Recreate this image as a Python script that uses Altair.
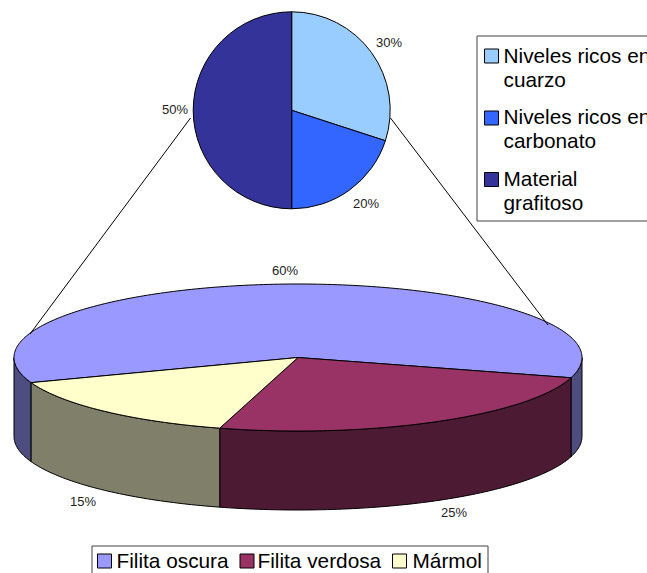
import numpy as np
import pandas as pd
import altair as alt

# Breakdown of the dark phyllite (upper pie)
upper_names = ["Niveles ricos en cuarzo", "Niveles ricos en carbonato", "Material grafitoso"]
upper_values = [30, 20, 50]
upper_colors = ["#99CCFF", "#3366FF", "#333399"]

# Lithologies (lower, tilted pie)
lower_names = ["Filita oscura", "Filita verdosa", "Mármol"]
lower_values = [60, 25, 15]
lower_colors = ["#9999FF", "#993366", "#FFFFCC"]
lower_sides = ["#4D4D80", "#4D1A33", "#80806A"]

W, H = 647, 573
FONT = "Liberation Sans"
xs = alt.Scale(domain=[0, W], nice=False, zero=False)
ys = alt.Scale(domain=[0, H], nice=False, zero=False, reverse=True)

# Tilted pie geometry
CX, CY, RX, RY, DEPTH = 298, 357.5, 284, 73.5, 79
START = 160.0


def rim(a0, a1, drop=0.0):
    t = np.radians(np.linspace(a0, a1, max(int(abs(a1 - a0)), 2) + 1))
    return list(CX + RX * np.cos(t)), list(CY + drop + RY * np.sin(t))


def poly(px, py, fill):
    df = pd.DataFrame({"x": px, "y": py, "i": range(len(px))})
    return alt.Chart(df).mark_line(
        fill=fill, stroke="black", strokeWidth=1, strokeJoin="round"
    ).encode(
        x=alt.X("x:Q", scale=xs, axis=None),
        y=alt.Y("y:Q", scale=ys, axis=None),
        order=alt.Order("i:Q"),
    )


def wall(a0, a1, fill):
    tx, ty = rim(a0, a1)
    bx, by = rim(a1, a0, DEPTH)
    return poly(tx + bx + tx[:1], ty + by + ty[:1], fill)


def sector(a0, a1, fill):
    tx, ty = rim(a0, a1)
    return poly([CX] + tx + [CX], [CY] + ty + [CY], fill)


def segment(x0, y0, x1, y1):
    return poly([x0, x1], [y0, y1], "transparent")


def text(x, y, s, size, color="black"):
    return alt.Chart(pd.DataFrame({"t": [s]})).mark_text(
        align="left", baseline="alphabetic", font=FONT, fontSize=size, color=color
    ).encode(x=alt.value(x), y=alt.value(y), text="t:N")


def box(x0, y0, x1, y1, fill, stroke="black"):
    df = pd.DataFrame({"x": [x0], "x2": [x1], "y": [y0], "y2": [y1]})
    return alt.Chart(df).mark_rect(fill=fill, stroke=stroke, strokeWidth=1).encode(
        x=alt.X("x:Q", scale=xs, axis=None), x2="x2:Q",
        y=alt.Y("y:Q", scale=ys, axis=None), y2="y2:Q",
    )


# Slice boundaries of the tilted pie, clockwise from the first slice
edges = START + 3.6 * np.concatenate([[0], np.cumsum(lower_values)])

layers = []

# Side walls: only the front half (0..180 degrees) is visible
for k in range(3):
    a0, a1 = edges[k], edges[k + 1]
    for off in (0, 360):
        lo, hi = max(a0 - off, 0), min(a1 - off, 180)
        if hi > lo:
            layers.append(wall(lo, hi, lower_sides[k]))

# Top faces
for k in range(3):
    layers.append(sector(edges[k], edges[k + 1], lower_colors[k]))

# Connector lines between the two pies
layers.append(segment(190.5, 118, 30, 334))
layers.append(segment(390.5, 118, 548, 325))

# Upper pie
upper_df = pd.DataFrame({"n": upper_names, "v": upper_values, "i": range(3)})
layers.append(
    alt.Chart(upper_df).mark_arc(radius=98.5, stroke="black", strokeWidth=1).encode(
        theta=alt.Theta("v:Q", stack=True),
        order=alt.Order("i:Q"),
        color=alt.Color("n:N", scale=alt.Scale(domain=upper_names, range=upper_colors), legend=None),
        x=alt.value(291.7),
        y=alt.value(110.3),
    )
)

# Percentage labels
GRAY = "#222222"
for x, y, v in [(376, 47, upper_values[0]), (353, 208, upper_values[1]), (162, 114, upper_values[2]),
                (272, 275, lower_values[0]), (441, 517, lower_values[1]), (70, 506, lower_values[2])]:
    layers.append(text(x, y, f"{v}%", 13, GRAY))

# Right-hand legend: the box runs past the right edge of the page
layers.append(box(477, 36, 670, 221, "white", "#404040"))
legend_rows = [(49, upper_colors[0], ["Niveles ricos en", "cuarzo"], 63),
               (111, upper_colors[1], ["Niveles ricos en", "carbonato"], 124),
               (172.5, upper_colors[2], ["Material", "grafitoso"], 186)]
for top, col, lines, base in legend_rows:
    layers.append(box(484.5, top, 498.5, top + 14, col))
    for j, line in enumerate(lines):
        layers.append(text(503.5, base + 24 * j, line, 20.8))

# Bottom legend: its lower edge falls below the page
layers.append(box(92, 546, 488, 590, "white", "#404040"))
for sx, tx, col, name in zip([97.5, 240, 392.5], [116.5, 257.5, 412.5], lower_colors, lower_names):
    layers.append(box(sx, 554, sx + 14, 568, col))
    layers.append(text(tx, 568, name, 20.8))

chart = alt.layer(*layers).properties(
    width=W, height=H, padding=0, autosize=alt.AutoSizeParams(type="none"), background="white"
).configure_view(stroke=None)

chart.save("out.html", embed_options={"renderer": "svg", "actions": False})
